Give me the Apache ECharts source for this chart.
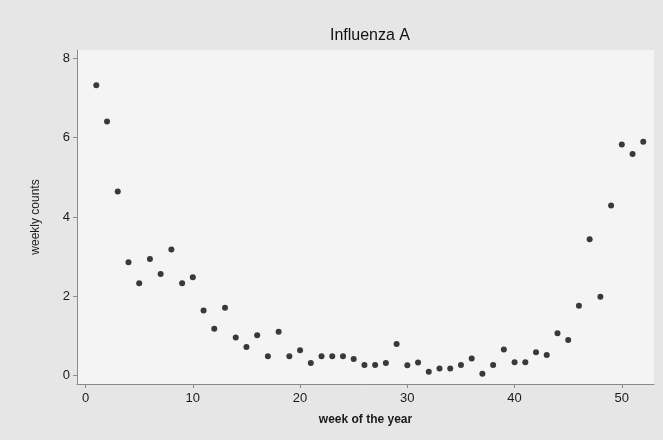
<!DOCTYPE html>
<html>
<head>
<meta charset="utf-8">
<script src="https://cdn.jsdelivr.net/npm/echarts@6/dist/echarts.min.js"></script>
<style>
  html, body { margin: 0; padding: 0; background: #e6e6e6; }
  #chart { width: 663px; height: 440px; }
</style>
</head>
<body>
<div id="chart"></div>
<script>
  // week of the year
  const weeks = [
    1, 2, 3, 4, 5, 6, 7, 8, 9, 10,
    11, 12, 13, 14, 15, 16, 17, 18, 19, 20,
    21, 22, 23, 24, 25, 26, 27, 28, 29, 30,
    31, 32, 33, 34, 35, 36, 37, 38, 39, 40,
    41, 42, 43, 44, 45, 46, 47, 48, 49, 50,
    51, 52
  ];
  // weekly counts
  const counts = [
    7.32, 6.41, 4.64, 2.86, 2.33, 2.94, 2.56, 3.18, 2.33, 2.48,
    1.64, 1.18, 1.71, 0.96, 0.72, 1.02, 0.49, 1.11, 0.49, 0.64,
    0.32, 0.49, 0.49, 0.49, 0.42, 0.27, 0.27, 0.32, 0.80, 0.26,
    0.33, 0.10, 0.18, 0.18, 0.27, 0.43, 0.05, 0.27, 0.66, 0.34,
    0.34, 0.59, 0.52, 1.07, 0.90, 1.76, 3.44, 1.99, 4.29, 5.83,
    5.59, 5.90
  ];
  const xTicks = [0, 10, 20, 30, 40, 50];
  const yTicks = [0, 2, 4, 6, 8];

  const font = 'Liberation Sans, Arial, sans-serif';
  const chart = echarts.init(document.getElementById('chart'));

  const option = {
    backgroundColor: '#e6e6e6',
    animation: false,
    title: {
      text: 'Influenza A',
      left: 365,
      top: 23,
      textAlign: 'center',
      textStyle: { fontFamily: font, fontSize: 16, fontWeight: 'normal', color: '#111' }
    },
    grid: {
      left: 77,
      right: 9,
      top: 50,
      bottom: 56,
      show: true,
      backgroundColor: '#f4f4f4',
      borderWidth: 0
    },
    xAxis: {
      type: 'value',
      min: -0.8,
      max: 53,
      name: 'week of the year',
      nameLocation: 'middle',
      nameGap: 30,
      nameTextStyle: { fontFamily: font, fontSize: 12, fontWeight: 'bold', color: '#1a1a1a' },
      axisLine: { show: true, onZero: false, lineStyle: { color: '#8a8a8a', width: 1 } },
      axisTick: { show: true, length: 4, customValues: xTicks, lineStyle: { color: '#8a8a8a' } },
      axisLabel: { customValues: xTicks, margin: 8, fontFamily: font, fontSize: 13, color: '#1a1a1a' },
      splitLine: { show: false }
    },
    yAxis: {
      type: 'value',
      min: -0.21,
      max: 8.21,
      name: 'weekly counts',
      nameLocation: 'middle',
      nameGap: 35,
      nameTextStyle: { fontFamily: font, fontSize: 12, color: '#1a1a1a' },
      axisLine: { show: true, onZero: false, lineStyle: { color: '#8a8a8a', width: 1 } },
      axisTick: { show: true, length: 4, customValues: yTicks, lineStyle: { color: '#8a8a8a' } },
      axisLabel: { customValues: yTicks, margin: 7, fontFamily: font, fontSize: 13, color: '#1a1a1a' },
      splitLine: { show: false }
    },
    series: [
      {
        type: 'scatter',
        symbol: 'circle',
        symbolSize: 6,
        itemStyle: { color: '#0a0a0a' },
        data: weeks.map((w, i) => [w, counts[i]])
      }
    ]
  };
  chart.setOption(option);
</script>
</body>
</html>
